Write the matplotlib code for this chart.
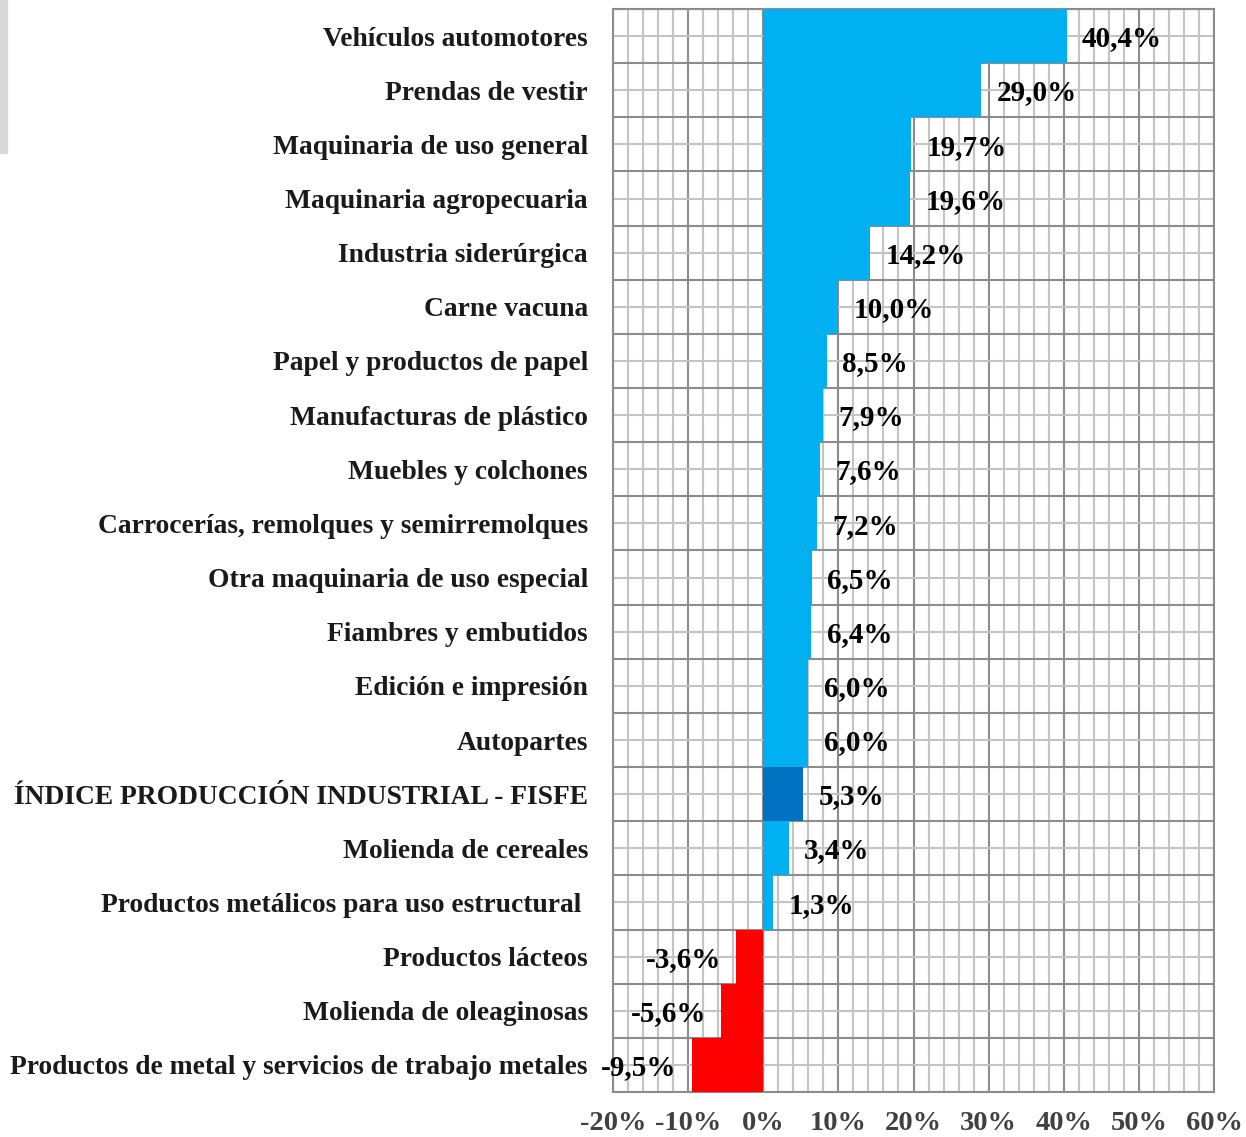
import matplotlib
matplotlib.use("Agg")
import matplotlib.pyplot as plt
from matplotlib.patches import Rectangle
from matplotlib.ticker import MultipleLocator, FuncFormatter

plt.rcParams['font.family'] = ['Liberation Serif', 'DejaVu Serif']

categories = [
    "Vehículos automotores",
    "Prendas de vestir",
    "Maquinaria de uso general",
    "Maquinaria agropecuaria",
    "Industria siderúrgica",
    "Carne vacuna",
    "Papel y productos de papel",
    "Manufacturas de plástico",
    "Muebles y colchones",
    "Carrocerías, remolques y semirremolques",
    "Otra maquinaria de uso especial",
    "Fiambres y embutidos",
    "Edición e impresión",
    "Autopartes",
    "ÍNDICE PRODUCCIÓN INDUSTRIAL - FISFE",
    "Molienda de cereales",
    "Productos metálicos para uso estructural ",
    "Productos lácteos",
    "Molienda de oleaginosas",
    "Productos de metal y servicios de trabajo metales",
]
values = [40.4, 29.0, 19.7, 19.6, 14.2, 10.0, 8.5, 7.9, 7.6, 7.2,
          6.5, 6.4, 6.0, 6.0, 5.3, 3.4, 1.3, -3.6, -5.6, -9.5]
index_name = "ÍNDICE PRODUCCIÓN INDUSTRIAL - FISFE"

colors = []
for c, v in zip(categories, values):
    if c == index_name:
        colors.append("#0070C0")
    elif v < 0:
        colors.append("#FF0000")
    else:
        colors.append("#00B0F0")

fig = plt.figure(figsize=(12.46, 11.37), dpi=100)
ax = fig.add_axes([613 / 1246, 1 - 1092 / 1137, (1214 - 613) / 1246, (1092 - 9) / 1137])

pos = list(range(len(categories)))
ax.barh(pos, values, height=1.0, color=colors, zorder=3)

ax.set_xlim(-20, 60)
ax.set_ylim(len(categories) - 0.5, -0.5)

# grid: major every 10 %, minor every 2 %; rows split at edges and centres
ax.xaxis.set_major_locator(MultipleLocator(10))
ax.xaxis.set_minor_locator(MultipleLocator(2))
ax.set_yticks(pos)
ax.set_yticks([p - 0.5 for p in pos] + [len(pos) - 0.5], minor=True)
ax.grid(which='major', axis='x', color='#8c8c8c', lw=1.5, zorder=1)
ax.grid(which='minor', axis='x', color='#c4c4c4', lw=1.5, zorder=1)
ax.grid(which='minor', axis='y', color='#8c8c8c', lw=1.5, zorder=1)
ax.grid(which='major', axis='y', color='#c4c4c4', lw=1.5, zorder=1)
ax.set_axisbelow(True)

ax.xaxis.set_major_formatter(FuncFormatter(lambda x, p: f"{x:.0f}%"))
ax.set_yticklabels(categories)
ax.tick_params(axis='both', which='both', length=0)
ax.tick_params(axis='x', pad=14, labelsize=20.5, labelcolor='#404040')
ax.tick_params(axis='y', pad=18, labelsize=19.8, labelcolor='#1a1a1a')
for lab in ax.get_xticklabels() + ax.get_yticklabels():
    lab.set_fontweight('bold')

for s in ax.spines.values():
    s.set_color('#8c8c8c')
    s.set_linewidth(1.5)

for p, v in zip(pos, values):
    txt = f"{v:.1f}%".replace('.', ',')
    ax.annotate(txt, (v, p + 0.05), xytext=(11 if v >= 0 else -11, 0),
                textcoords='offset points', ha='left' if v >= 0 else 'right',
                va='center', fontsize=21, fontweight='bold', color='black', zorder=4)

fig.patches.append(Rectangle((0, 1 - 153 / 1137), 7 / 1246, 153 / 1137,
                             transform=fig.transFigure, color='#d9d9d9'))

fig.savefig("out.png", dpi=100)
